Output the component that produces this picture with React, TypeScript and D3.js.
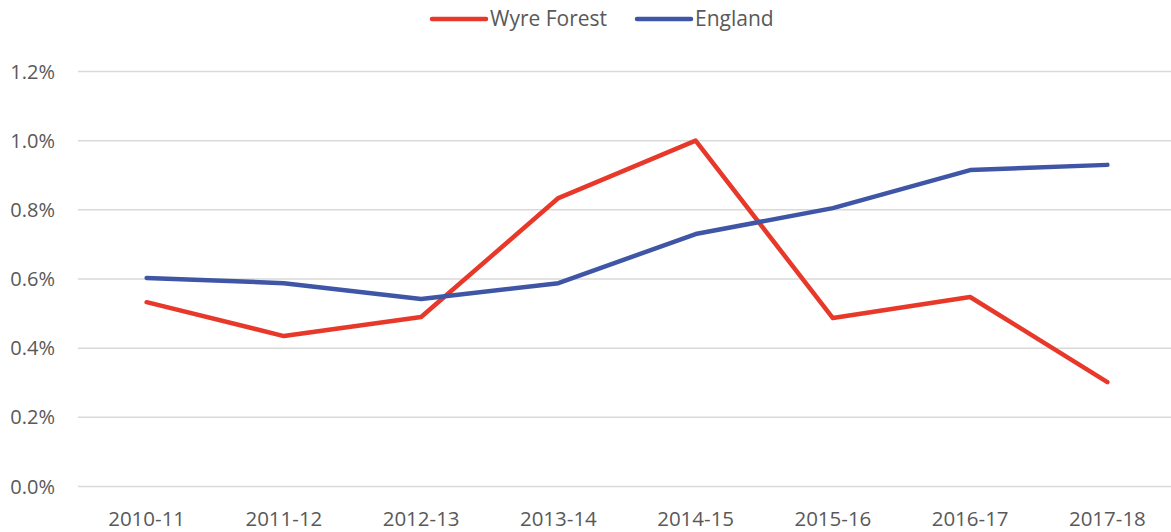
import React from 'react';
import * as d3 from 'd3';

const years = ['2010-11', '2011-12', '2012-13', '2013-14', '2014-15', '2015-16', '2016-17', '2017-18'];
const wyreForest = [0.533, 0.435, 0.49, 0.834, 1.0, 0.487, 0.548, 0.302];
const england = [0.603, 0.588, 0.542, 0.588, 0.73, 0.805, 0.915, 0.93];
const yTicks = [0, 0.2, 0.4, 0.6, 0.8, 1.0, 1.2];

const series = [
  { name: 'Wyre Forest', values: wyreForest, color: '#E8382A' },
  { name: 'England', values: england, color: '#3F56A6' },
];

const width = 1171;
const height = 532;
const font = '"Open Sans", sans-serif';

const App = () => {
  const xScale = d3.scaleBand<string>().domain(years).range([78, 1176]);
  const yScale = d3.scaleLinear().domain([0, 1.2]).range([486.5, 71.5]);

  const line = d3.line<number>()
    .x((d, i) => (xScale(years[i]) as number) + xScale.bandwidth() / 2)
    .y(d => yScale(d));

  return (
    <svg width={width} height={height} style={{ position: 'absolute', left: 0, top: 0 }}>
      <rect width={width} height={height} fill='#fff' />
      {yTicks.map(t => (
        <g key={t}>
          <line x1={78} x2={1171} y1={yScale(t)} y2={yScale(t)} stroke='#d9d9d9' strokeWidth={1.5} />
          <text x={55} y={yScale(t)} dy='0.35em' textAnchor='end' fontFamily={font} fontSize={20} fill='#595959'>
            {`${t.toFixed(1)}%`}
          </text>
        </g>
      ))}
      {years.map(y => (
        <text key={y} x={(xScale(y) as number) + xScale.bandwidth() / 2} y={526} textAnchor='middle'
          fontFamily={font} fontSize={20.5} fill='#595959'>{y}</text>
      ))}
      {series.map(s => (
        <path key={s.name} d={line(s.values) as string} fill='none' stroke={s.color}
          strokeWidth={4.5} strokeLinejoin='round' strokeLinecap='round' />
      ))}
      {series.map((s, i) => {
        const x0 = i === 0 ? 432 : 637;
        return (
          <g key={s.name}>
            <line x1={x0} x2={x0 + 54} y1={19} y2={19} stroke={s.color} strokeWidth={4.5} strokeLinecap='round' />
            <text x={x0 + 58} y={19} dy='0.35em' fontFamily={font} fontSize={21} fill='#595959'>{s.name}</text>
          </g>
        );
      })}
    </svg>
  );
};

export default App;
